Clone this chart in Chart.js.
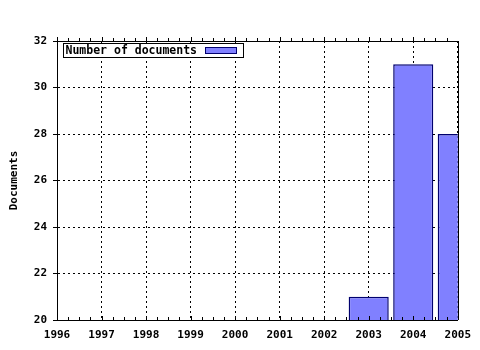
<!DOCTYPE html>
<html>
<head>
<meta charset="utf-8">
<script src="https://cdn.jsdelivr.net/npm/chart.js@4/dist/chart.umd.min.js"></script>
<style>
  html, body { margin: 0; padding: 0; background: #fff; }
  canvas { display: block; }
</style>
</head>
<body>
<canvas id="docChart" width="480" height="350"></canvas>
<script>
// data
const years = ['1996', '1997', '1998', '1999', '2000', '2001', '2002', '2003', '2004', '2005'];
const documents = [null, null, null, null, null, null, null, 21, 31, 28];
const seriesLabel = 'Number of documents';
const yTitle = 'Documents';

const FONT = '"DejaVu Sans Mono", monospace';

// frame on top/right + small ticks on the x axes, jpgraph style
const framePlugin = {
  id: 'frame',
  afterDatasetsDraw(chart) {
    const {ctx, chartArea: a, scales: {x}} = chart;
    ctx.save();
    ctx.strokeStyle = '#000';
    ctx.lineWidth = 1;
    ctx.beginPath();
    ctx.moveTo(a.left, Math.round(a.top) + 0.5);
    ctx.lineTo(a.right + 0.5, Math.round(a.top) + 0.5);
    ctx.moveTo(Math.round(a.right) + 0.5, a.top);
    ctx.lineTo(Math.round(a.right) + 0.5, a.bottom);
    // ticks (major + 3 minor per step)
    for (let i = 0; i < years.length - 1; i++) {
      const p0 = x.getPixelForValue(i);
      const p1 = x.getPixelForValue(i + 1);
      for (let k = 0; k < 4; k++) {
        const px = Math.round(p0 + (p1 - p0) * k / 4) + 0.5;
        const len = k === 0 ? 4 : 3;
        ctx.moveTo(px, a.bottom);
        ctx.lineTo(px, a.bottom - len);
        ctx.moveTo(px, a.top);
        ctx.lineTo(px, a.top - len);
      }
    }
    ctx.stroke();
    ctx.restore();
  }
};

// legend box inside the plot, top left
const legendBoxPlugin = {
  id: 'legendBox',
  afterDraw(chart) {
    const {ctx, chartArea: a} = chart;
    const ds = chart.data.datasets[0];
    ctx.save();
    ctx.font = 'bold 11.5px ' + FONT;
    const tw = ctx.measureText(ds.label).width;
    const bx = Math.round(a.left) + 6.5;
    const by = Math.round(a.top) + 2.5;
    const bw = Math.round(tw + 48);
    const bh = 14;
    ctx.fillStyle = '#fff';
    ctx.fillRect(bx, by, bw, bh);
    ctx.strokeStyle = '#000';
    ctx.lineWidth = 1;
    ctx.strokeRect(bx, by, bw, bh);
    ctx.fillStyle = '#000';
    ctx.textBaseline = 'middle';
    ctx.fillText(ds.label, bx + 2, by + bh / 2 + 1);
    const sx = bx + bw - 38;
    ctx.fillStyle = ds.backgroundColor;
    ctx.fillRect(sx, by + 4, 31, 6);
    ctx.strokeStyle = ds.borderColor;
    ctx.strokeRect(sx, by + 4, 31, 6);
    ctx.restore();
  }
};

const ctx = document.getElementById('docChart').getContext('2d');
const chart = new Chart(ctx, {
  type: 'bar',
  data: {
    labels: years,
    datasets: [{
      label: seriesLabel,
      data: documents,
      backgroundColor: '#8080ff',
      borderColor: '#00006e',
      borderWidth: 1.5,
      borderSkipped: false,
      inflateAmount: 0,
      categoryPercentage: 1,
      barPercentage: 0.9,
      clip: 0
    }]
  },
  options: {
    responsive: false,
    animation: false,
    events: [],
    layout: { padding: { top: 41, right: 21, left: 0, bottom: 0 } },
    plugins: {
      legend: { display: false },
      tooltip: { enabled: false }
    },
    scales: {
      x: {
        offset: false,
        grid: { offset: false, color: '#000', drawTicks: false },
        border: { color: '#000', width: 1, dash: [2, 3] },
        ticks: {
          color: '#000',
          padding: 9,
          maxRotation: 0,
          autoSkip: false,
          font: { family: FONT, size: 11, weight: 'bold' }
        },
        afterFit(scale) { scale.height = 30; }
      },
      y: {
        min: 20,
        max: 32,
        grid: { color: '#000', tickLength: 4 },
        border: { color: '#000', width: 1, dash: [2, 3] },
        ticks: {
          stepSize: 2,
          color: '#000',
          padding: 6,
          font: { family: FONT, size: 11, weight: 'bold' }
        },
        title: {
          display: true,
          text: yTitle,
          color: '#000',
          padding: { top: 8, bottom: 0 },
          font: { family: FONT, size: 11, weight: 'bold' }
        },
        afterFit(scale) { scale.width = 57; }
      }
    }
  },
  plugins: [framePlugin, legendBoxPlugin]
});
</script>
</body>
</html>
